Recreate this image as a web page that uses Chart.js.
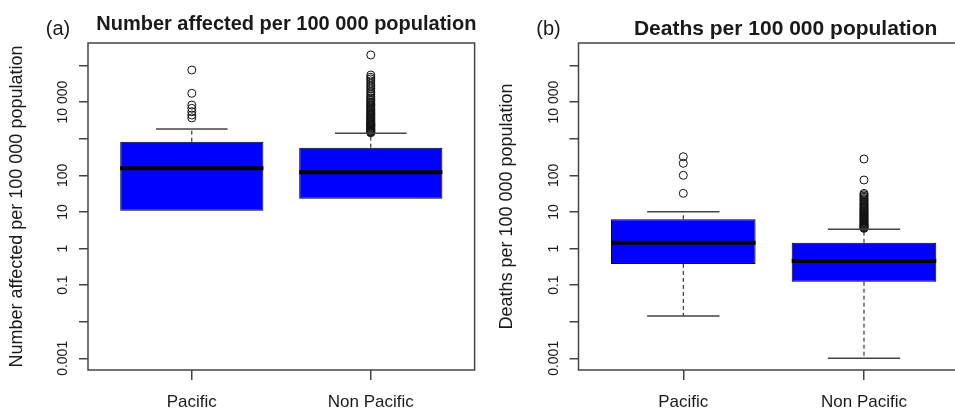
<!DOCTYPE html>
<html>
<head>
<meta charset="utf-8">
<title>Number affected and deaths per 100 000 population</title>
<script src="https://cdn.jsdelivr.net/npm/chart.js@4.4.1/dist/chart.umd.min.js"></script>
<style>
  html, body { margin: 0; padding: 0; background: #fff; overflow: hidden; }
  #wrap { position: relative; width: 955px; height: 411px; overflow: hidden; }
  #chartA { position: absolute; left: 0; top: 0; }
  #chartB { position: absolute; left: 480px; top: 0; }
</style>
</head>
<body>
<div id="wrap">
  <canvas id="chartA" width="480" height="411"></canvas>
  <canvas id="chartB" width="500" height="411"></canvas>
</div>
<script>
'use strict';

var categories = ["Pacific", "Non Pacific"];
var positions = [1, 2];

// (a) number affected per 100 000 population
var affectedLow = [10.8, 23];
var affectedQ1 = [10.8, 23];
var affectedMedian = [155, 121];
var affectedQ3 = [828, 569];
var affectedHigh = [1840, 1410];
var affectedOutPacific = [75300, 17400, 8300, 6760, 5460, 4440, 3700];
var affectedOutNonPacific = [194000, 55000, 48000, 43000, 38000, 33000, 29000, 26000, 23000,
  20000, 18000, 16000, 14500, 13000, 12000, 11000, 10000, 9300, 8600, 8000, 7400, 6900,
  6400, 6000, 5600, 5200, 4900, 4600, 4300, 4000, 3800, 3600, 3400, 3200, 3000, 2850,
  2700, 2550, 2400, 2300, 2200, 2100, 2000, 1900, 1820, 1750, 1680, 1610, 1550, 1500, 1450];

// (b) deaths per 100 000 population
var deathsLow = [0.0144, 0.001];
var deathsQ1 = [0.38, 0.124];
var deathsMedian = [1.44, 0.455];
var deathsQ3 = [6.3, 1.44];
var deathsHigh = [10.1, 3.35];
var deathsOutPacific = [322, 213, 100, 32.2];
var deathsOutNonPacific = [279, 74.5, 32, 29.5, 27, 25, 23, 21.5, 20, 18.5, 17, 16, 15, 14,
  13, 12.2, 11.5, 10.8, 10.2, 9.6, 9.1, 8.6, 8.1, 7.7, 7.3, 6.9, 6.5, 6.2, 5.9, 5.6, 5.3,
  5.05, 4.8, 4.6, 4.4, 4.2, 4.0, 3.85, 3.7, 3.55];

var yTickValues = [0.001, 0.01, 0.1, 1, 10, 100, 1000, 10000, 100000];
var yTickLabels = ["0.001", "", "0.1", "1", "10", "100", "", "10 000", ""];

var FONT = "'Liberation Sans', Arial, Helvetica, sans-serif";
Chart.defaults.font.family = FONT;

// median, whiskers, caps, frame, rotated y labels and panel titles
var boxExtras = {
  id: 'boxExtras',
  afterDatasetDraw: function (chart, args, o) {
    if (args.index !== 0) return;
    var ctx = chart.ctx;
    var xs = chart.scales.x;
    var ys = chart.scales.y;
    ctx.save();
    for (var i = 0; i < positions.length; i++) {
      var x = xs.getPixelForValue(positions[i]);
      // dashed whiskers
      ctx.strokeStyle = '#111';
      ctx.lineWidth = 1;
      ctx.setLineDash([4, 3]);
      ctx.beginPath();
      ctx.moveTo(x, ys.getPixelForValue(o.q3[i]));
      ctx.lineTo(x, ys.getPixelForValue(o.high[i]));
      ctx.moveTo(x, ys.getPixelForValue(o.q1[i]));
      ctx.lineTo(x, ys.getPixelForValue(o.low[i]));
      ctx.stroke();
      ctx.setLineDash([]);
      // caps (none where the whisker has no length)
      ctx.strokeStyle = '#444';
      ctx.lineWidth = 1.5;
      ctx.beginPath();
      if (o.high[i] > o.q3[i]) {
        var yh = ys.getPixelForValue(o.high[i]);
        ctx.moveTo(xs.getPixelForValue(positions[i] - 0.2), yh);
        ctx.lineTo(xs.getPixelForValue(positions[i] + 0.2), yh);
      }
      if (o.low[i] < o.q1[i]) {
        var yl = ys.getPixelForValue(o.low[i]);
        ctx.moveTo(xs.getPixelForValue(positions[i] - 0.2), yl);
        ctx.lineTo(xs.getPixelForValue(positions[i] + 0.2), yl);
      }
      ctx.stroke();
      // median
      var ym = ys.getPixelForValue(o.median[i]);
      ctx.strokeStyle = '#000';
      ctx.lineWidth = 4;
      ctx.beginPath();
      ctx.moveTo(xs.getPixelForValue(positions[i] - 0.4), ym);
      ctx.lineTo(xs.getPixelForValue(positions[i] + 0.4), ym);
      ctx.stroke();
    }
    ctx.restore();
  },
  afterDraw: function (chart, args, o) {
    var ctx = chart.ctx;
    var a = chart.chartArea;
    var ys = chart.scales.y;
    ctx.save();
    // box round the plot
    ctx.strokeStyle = '#444';
    ctx.lineWidth = 1.5;
    ctx.strokeRect(a.left, a.top, a.right - a.left, a.bottom - a.top);
    // y tick labels, turned like in R
    ctx.fillStyle = '#1a1a1a';
    ctx.font = '14px ' + FONT;
    ctx.textAlign = 'center';
    ctx.textBaseline = 'alphabetic';
    for (var i = 0; i < yTickValues.length; i++) {
      if (!yTickLabels[i]) continue;
      ctx.save();
      ctx.translate(a.left - 21, ys.getPixelForValue(yTickValues[i]));
      ctx.rotate(-Math.PI / 2);
      ctx.fillText(yTickLabels[i], 0, 0);
      ctx.restore();
    }
    // panel letter and title
    ctx.font = '20px ' + FONT;
    ctx.fillText(o.letter, a.left - 30, 35);
    ctx.font = 'bold ' + o.titleSize + 'px ' + FONT;
    ctx.fillText(o.title, (a.left + a.right) / 2 + o.titleShift, o.titleBase);
    ctx.restore();
  }
};

function makeBoxChart(canvasId, p) {
  var ctx = document.getElementById(canvasId).getContext('2d');
  var outliers = [];
  p.outPacific.forEach(function (v) { outliers.push({ x: positions[0], y: v }); });
  p.outNonPacific.forEach(function (v) { outliers.push({ x: positions[1], y: v }); });

  return new Chart(ctx, {
    type: 'bar',
    data: {
      datasets: [
        {
          type: 'bar',
          data: positions.map(function (pos, i) { return { x: pos, y: [p.q1[i], p.q3[i]] }; }),
          backgroundColor: '#0000ff',
          borderColor: '#000',
          borderWidth: 1,
          borderSkipped: false,
          barPercentage: 1,
          categoryPercentage: 0.8,
        },
        {
          type: 'scatter',
          data: outliers,
          pointStyle: 'circle',
          pointRadius: 4,
          borderColor: '#111',
          backgroundColor: 'rgba(0,0,0,0)',
          borderWidth: 1,
        },
      ],
    },
    options: {
      responsive: false,
      animation: false,
      devicePixelRatio: 1,
      layout: { padding: { top: 43, left: 0, right: p.padRight, bottom: 0 } },
      plugins: {
        legend: { display: false },
        tooltip: { enabled: false },
        boxExtras: {
          low: p.low, q1: p.q1, median: p.median, q3: p.q3, high: p.high,
          letter: p.letter, title: p.title, titleSize: p.titleSize,
          titleShift: p.titleShift, titleBase: p.titleBase,
        },
      },
      scales: {
        x: {
          type: 'linear',
          min: 0.42,
          max: 2.58,
          offset: false,
          afterBuildTicks: function (s) { s.ticks = positions.map(function (v) { return { value: v }; }); },
          afterFit: function (s) { s.height = 41; },
          ticks: {
            callback: function (v, i) { return categories[i]; },
            font: { size: 17 },
            color: '#1a1a1a',
            padding: 12,
            autoSkip: false,
            maxRotation: 0,
          },
          grid: { offset: false, drawOnChartArea: false, tickLength: 10, color: '#444', lineWidth: 1.5 },
          border: { display: false },
        },
        y: {
          type: 'logarithmic',
          min: 0.00048,
          max: 412000,
          afterBuildTicks: function (s) { s.ticks = yTickValues.map(function (v) { return { value: v }; }); },
          afterFit: function (s) { s.width = p.yWidth; },
          ticks: { display: false },
          grid: { drawOnChartArea: false, tickLength: 9, color: '#444', lineWidth: 1.5 },
          border: { display: false },
          title: {
            display: true,
            text: p.yTitle,
            font: { size: 18 },
            color: '#1a1a1a',
            padding: { top: p.yTitlePad, bottom: 0 },
          },
        },
      },
    },
    plugins: [boxExtras],
  });
}

makeBoxChart('chartA', {
  low: affectedLow, q1: affectedQ1, median: affectedMedian, q3: affectedQ3, high: affectedHigh,
  outPacific: affectedOutPacific, outNonPacific: affectedOutNonPacific,
  letter: '(a)', title: 'Number affected per 100 000 population', titleSize: 20, titleShift: 5, titleBase: 30,
  yTitle: 'Number affected per 100 000 population', yTitlePad: 6, yWidth: 88, padRight: 5.4,
});

makeBoxChart('chartB', {
  low: deathsLow, q1: deathsQ1, median: deathsMedian, q3: deathsQ3, high: deathsHigh,
  outPacific: deathsOutPacific, outNonPacific: deathsOutNonPacific,
  letter: '(b)', title: 'Deaths per 100 000 population', titleSize: 21, titleShift: 12, titleBase: 35,
  yTitle: 'Deaths per 100 000 population', yTitlePad: 16, yWidth: 98.5, padRight: 11.2,
});
</script>
</body>
</html>
